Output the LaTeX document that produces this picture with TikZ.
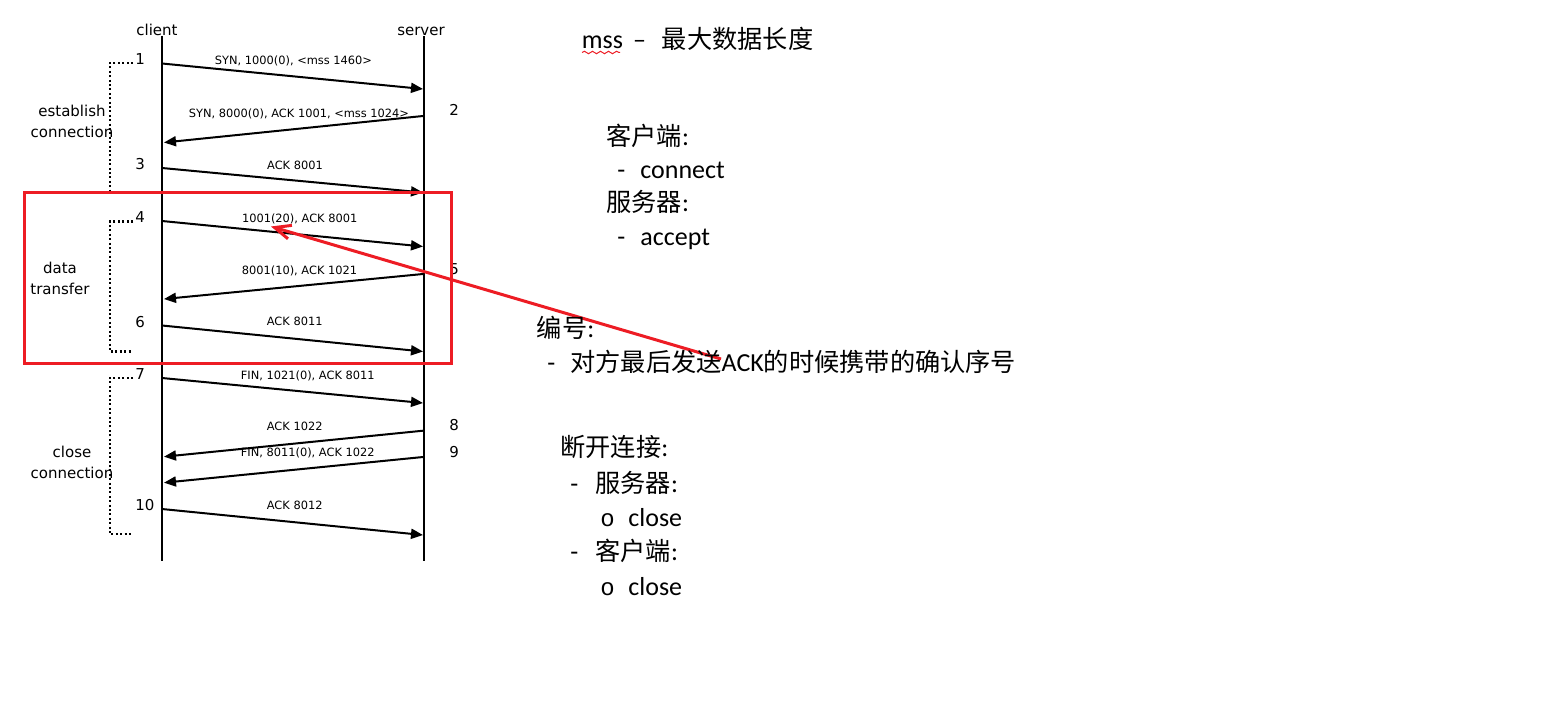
\documentclass[tikz,border=0pt]{standalone}
\usepackage{fontspec}
\setmainfont{Carlito}
\newfontfamily\diag{DejaVu Sans}
\newfontfamily\cjk{Noto Sans CJK SC}[Scale=0.97]
\newfontfamily\mono{Liberation Mono}
\usetikzlibrary{arrows.meta,decorations.pathmorphing}
\definecolor{ink}{HTML}{000000}
\definecolor{hlred}{HTML}{ED1C24}
\tikzset{
  life/.style={draw=ink,line width=1pt},
  msg/.style={-{Triangle[length=6pt,width=5pt]},line width=1pt,draw=ink},
  lbl/.style={font=\diag\fontsize{5.7}{7}\selectfont,inner sep=0pt,anchor=base},
  num/.style={font=\diag\fontsize{7.5}{9}\selectfont,inner sep=0pt,anchor=base west},
  grp/.style={font=\diag\fontsize{7.5}{10.5}\selectfont,align=center,inner sep=0pt},
  brk/.style={draw=ink,line width=1.1pt,dash pattern=on 1pt off 1.2pt},
  note/.style={font=\fontsize{13}{15}\selectfont,anchor=base west,inner sep=0pt},
  hl/.style={draw=hlred,line width=1.5pt},
  ptr/.style={-{Straight Barb[length=8pt,width=7pt]},draw=hlred,line width=1.5pt},
}
\newcommand\dsh[1]{\makebox[#1][l]{-}}
\newcommand\ringb[1]{\makebox[#1][l]{\mono\fontsize{12}{14}\selectfont o}}
\begin{document}
\begin{tikzpicture}[x=0.5pt,y=-0.5pt]
\useasboundingbox (0,0) rectangle (1561,722);
% lifelines
\node[lbl] (client) at (157,36) {\fontsize{7.5}{9}\selectfont client};
\node[lbl] (server) at (421,36) {\fontsize{7.5}{9}\selectfont server};
\coordinate (ctop) at (161.5,36); \coordinate (cbot) at (161.5,561);
\coordinate (stop) at (424,36); \coordinate (sbot) at (424,561);
\draw[life] (ctop) -- (cbot);
\draw[life] (stop) -- (sbot);
% client -> server
\foreach \i/\ys/\ye/\lx/\ly/\txt in {1/63.5/89/293.5/60.7/{SYN, 1000(0), <mss 1460>},
    3/168/192.5/295/165.7/{ACK 8001},4/221/246.5/299.7/218.3/{1001(20), ACK 8001},
    6/325.5/351.5/294.7/321.7/{ACK 8011},7/378/403/307.8/375/{FIN, 1021(0), ACK 8011},
    10/509/535/294.7/505/{ACK 8012}} {
  \coordinate (m\i a) at (162,\ys); \coordinate (m\i b) at (423,\ye);
  \draw[msg] (m\i a) -- (m\i b);
  \node[lbl] (t\i) at (\lx,\ly+4) {\txt};
  \node[num] (n\i) at (135,\ys+1.5) {\i};
}
% server -> client
\foreach \i/\ys/\ye/\lx/\ly/\txt in {2/116/142.5/299/114/{SYN, 8000(0), ACK 1001, <mss 1024>},
    5/274/299/299.5/270/{8001(10), ACK 1021},8/430.7/456.7/294.7/426.7/{ACK 1022},
    9/457/482.7/307.8/452.7/{FIN, 8011(0), ACK 1022}} {
  \coordinate (m\i a) at (423,\ys); \coordinate (m\i b) at (164,\ye);
  \draw[msg] (m\i a) -- (m\i b);
  \node[lbl] (t\i) at (\lx,\ly+4) {\txt};
  \node[num] (n\i) at (449,\ys) {\i};
}
% phases
\draw[brk] (133,63) -- (110,63) -- (110,193) -- (133,193);
\draw[brk] (133,221.5) -- (110,221.5) -- (110,351.5) -- (133,351.5);
\draw[brk] (133,378) -- (110,378) -- (110,534) -- (133,534);
\node[grp] (est) at (72,121) {establish\\connection};
\node[grp] (dat) at (60,278) {data\\transfer};
\node[grp] (cls) at (72,462) {close\\connection};
% highlight
\draw[hl] (24,192) rectangle (451,363);
\coordinate (ptrend) at (721,359);
\coordinate (ptrtip) at (271,226.5);
\draw[ptr] (ptrend) -- (ptrtip);
% notes
\node[note] (mss) at (581.5,49) {mss\hspace{5pt}–\hspace{8pt}{\cjk 最大数据长度}};
\draw[hlred,line width=0.5pt,decorate,decoration={snake,segment length=4pt,amplitude=0.6pt}] (582,52.5) -- (620,52.5);
\node[note] (cli) at (606,145) {{\cjk 客户端}:};
\node[note] (con) at (617,178) {\dsh{11.5pt}connect};
\node[note] (srv) at (606,211) {{\cjk 服务器}:};
\node[note] (acc) at (617,245) {\dsh{11.5pt}accept};
\node[note] (seq) at (536.5,337) {{\cjk 编号}:};
\node[note] (seqd) at (547,371) {\dsh{11.5pt}{\cjk 对方最后发送}ACK{\cjk 的时候携带的确认序号}};
\node[note] (dis) at (560,456) {{\cjk 断开连接}:};
\node[note] (dsrv) at (570,492) {\dsh{12.5pt}{\cjk 服务器}:};
\node[note] (dsrvc) at (600,526) {\ringb{14pt}close};
\node[note] (dcli) at (570,560) {\dsh{12.5pt}{\cjk 客户端}:};
\node[note] (dclic) at (600,595) {\ringb{14pt}close};
\end{tikzpicture}
\end{document}
